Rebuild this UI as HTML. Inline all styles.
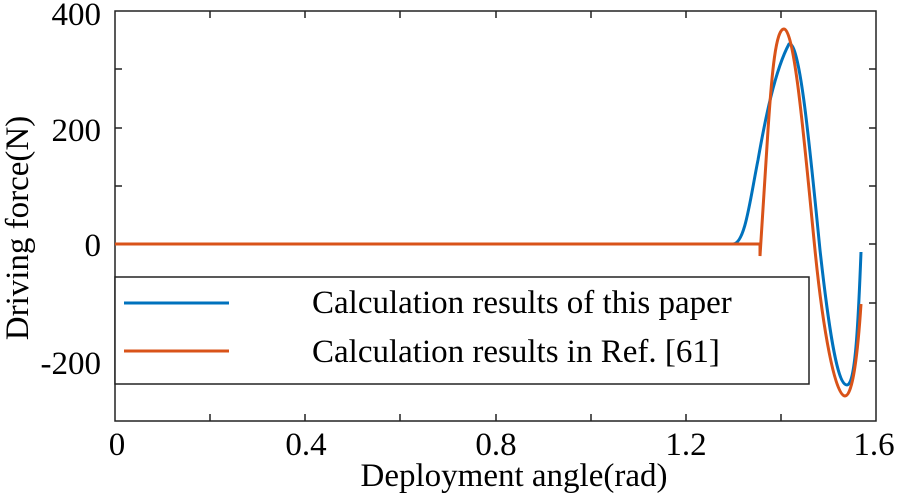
<!DOCTYPE html>
<html><head><style>body{margin:0;background:#fff}svg{display:block}text{font-family:"Liberation Serif",serif;fill:#000}</style></head>
<body>
<svg width="898" height="495" viewBox="0 0 898 495">
<g stroke="#222" stroke-width="1.5" fill="none">
<rect x="115" y="11" width="761" height="410"/>
<path d="M210,421v-7M305,421v-7M400,421v-7M496,421v-7M591,421v-7M686,421v-7M781,421v-7
M210,11v7M305,11v7M400,11v7M496,11v7M591,11v7M686,11v7M781,11v7
M115,69h7M115,128h7M115,186h7M115,244h7M115,303h7M115,361h7
M876,69h-7M876,128h-7M876,186h-7M876,244h-7M876,303h-7M876,361h-7"/>
</g>
<path d="M115,244 L733,244 C745,244 750,200 758,160 C765,120 775,70 789,44 C800,40 810,150 820,250 C830,340 838,385 847,385 C855,385 858,330 861,252" fill="none" stroke="#0072BD" stroke-width="3"/>
<path d="M115,244 L760,244 L760,256 L768,130 C772,70 776,29 784,29 C795,29 805,150 815,250 C823,330 835,396 845,396 C853,396 858,350 861,304" fill="none" stroke="#D95319" stroke-width="3"/>
<rect x="115" y="277" width="694" height="107" fill="#fff" stroke="#222" stroke-width="1.5"/>
<line x1="124" y1="303" x2="229" y2="303" stroke="#0072BD" stroke-width="3"/>
<line x1="124" y1="351" x2="229" y2="351" stroke="#D95319" stroke-width="3"/>
<g font-size="33">
<text x="312" y="313">Calculation results of this paper</text>
<text x="312" y="362">Calculation results in Ref. [61]</text>
<g text-anchor="end">
<text x="101" y="25">400</text>
<text x="101" y="141">200</text>
<text x="101" y="256">0</text>
<text x="101" y="374">-200</text>
</g>
<g text-anchor="middle">
<text x="117" y="455">0</text>
<text x="306" y="455">0.4</text>
<text x="496" y="455">0.8</text>
<text x="686" y="455">1.2</text>
<text x="874" y="455">1.6</text>
<text x="514" y="486">Deployment angle(rad)</text>
<text transform="translate(28,228) rotate(-90)">Driving force(N)</text>
</g>
</g>
</svg>
</body></html>
